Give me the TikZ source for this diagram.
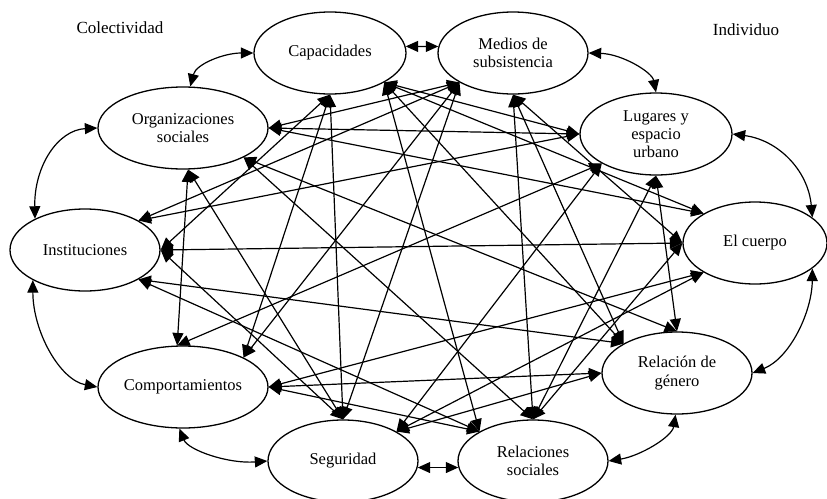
\documentclass[tikz,border=0pt]{standalone}
\usepackage{fontspec}
\setmainfont{Liberation Serif}
\usetikzlibrary{shapes.geometric,arrows.meta}
\begin{document}
\begin{tikzpicture}[x=1pt,y=-1pt,
  ell/.style={draw, ellipse, line width=1.3pt, inner sep=-25pt, minimum width=150pt, minimum height=82pt, align=center, font=\fontsize{16.5}{18.3}\selectfont},
  wide/.style={minimum width=170pt},
  lnk/.style={line width=1.2pt, {Triangle[length=12.5pt,width=11pt]}-{Triangle[length=12.5pt,width=11pt]}},
  lbl/.style={font=\fontsize{17}{20}\selectfont}]
\useasboundingbox (0,0) rectangle (827,498);
% nodes
\node[ell, minimum width=152pt] (C) at (330,53) {Capacidades};
\node[ell] (M) at (513,53) {Medios de\\subsistencia};
\node[ell, minimum width=152pt] (L) at (656,134) {Lugares y\\espacio\\urbano};
\node[ell, minimum width=144pt] (E) at (755,243) {El cuerpo};
\node[ell] (G) at (677,373) {Relación de\\género};
\node[ell] (R) at (533,461) {Relaciones\\sociales};
\node[ell] (S) at (343,461) {Seguridad};
\node[ell, wide] (P) at (183,387) {Comportamientos};
\node[ell] (I) at (85,250) {Instituciones};
\node[ell, wide] (O) at (183,128) {Organizaciones\\sociales};
\node[lbl] (colect) at (120,28) {Colectividad};
\node[lbl] (indiv) at (746,30) {Individuo};
% ring connections
\draw[lnk] (O.80) .. controls (196,64) and (224,53) .. (C.west);
\draw[lnk] (O.west) .. controls (58,130) and (34,166) .. (I.148);
\draw[lnk] (I.210) .. controls (33,332) and (60,380) .. (P.west);
\draw[lnk] (P.265) .. controls (188,450) and (228,464) .. (S.west);
\draw[lnk] (S.-5) -- (R.185);
\draw[lnk] (R.east) .. controls (640,456) and (672,437) .. (G.268);
\draw[lnk] (G.east) .. controls (790,358) and (812,312) .. (E.-24);
\draw[lnk] (E.24) .. controls (808,170) and (778,140) .. (L.east);
\draw[lnk] (L.north) .. controls (652,72) and (622,54) .. (M.east);
\draw[lnk] (C.5) -- (M.175);
% cross connections
\draw[lnk] (C.south) -- (S.north);
\draw[lnk] (C.south) -- (P.north east);
\draw[lnk] (C.south) -- (I.east);
\draw[lnk] (C.south east) -- (L.west);
\draw[lnk] (C.south east) -- (E.north west);
\draw[lnk] (C.south east) -- (G.north west);
\draw[lnk] (C.south east) -- (R.north west);
\draw[lnk] (M.south west) -- (S.north);
\draw[lnk] (M.south west) -- (P.north east);
\draw[lnk] (M.south west) -- (I.north east);
\draw[lnk] (M.south west) -- (O.east);
\draw[lnk] (M.south) -- (R.north);
\draw[lnk] (M.south) -- (G.north west);
\draw[lnk] (M.south) -- (E.west);
\draw[lnk] (L.west) -- (O.east);
\draw[lnk] (L.west) -- (I.north east);
\draw[lnk] (L.south west) -- (P.98);
\draw[lnk] (L.south west) -- (S.north east);
\draw[lnk] (L.south) -- (G.north);
\draw[lnk] (L.south) -- (R.north);
\draw[lnk] (E.north west) -- (O.east);
\draw[lnk] (E.west) -- (I.east);
\draw[lnk] (E.west) -- (R.north);
\draw[lnk] (E.south west) -- (P.east);
\draw[lnk] (E.south west) -- (S.north east);
\draw[lnk] (G.north) -- (O.south east);
\draw[lnk] (G.north west) -- (I.south east);
\draw[lnk] (G.west) -- (P.east);
\draw[lnk] (G.west) -- (S.north east);
\draw[lnk] (R.north) -- (O.south east);
\draw[lnk] (R.north west) -- (I.south east);
\draw[lnk] (R.north west) -- (P.east);
\draw[lnk] (S.north) -- (I.east);
\draw[lnk] (S.north) -- (O.-83);
\draw[lnk] (P.98) -- (O.-83);
\end{tikzpicture}
\end{document}
